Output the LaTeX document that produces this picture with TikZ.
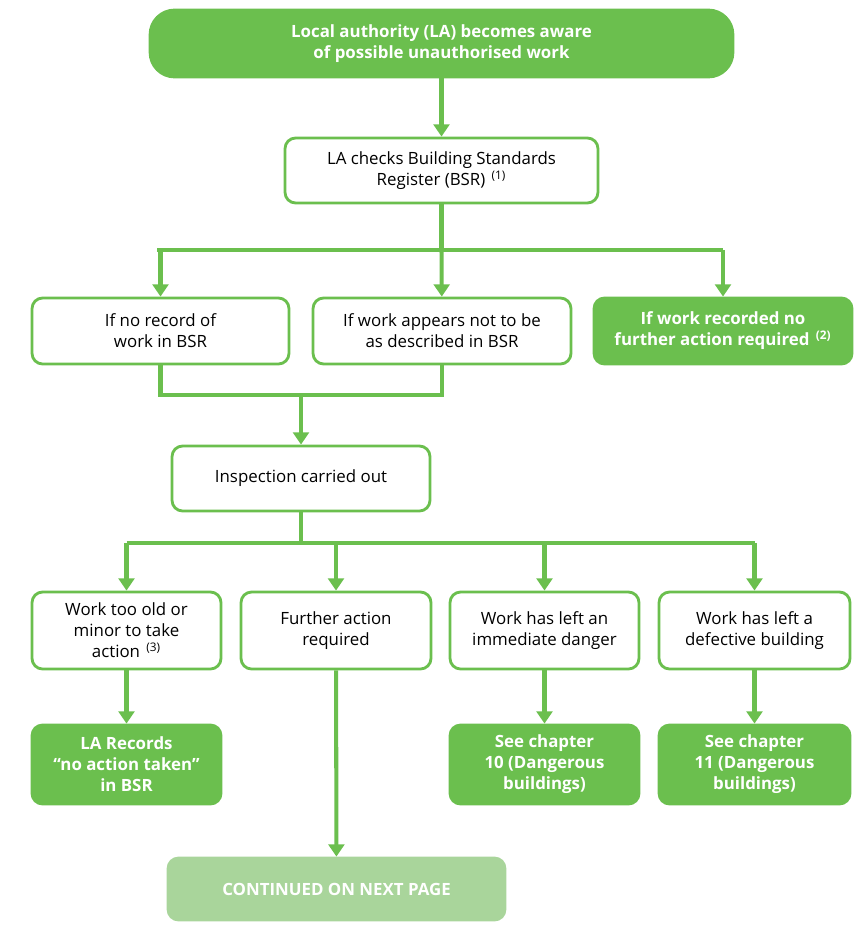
\documentclass[tikz,border=0pt]{standalone}
\usepackage{fontspec}
\setmainfont{Open Sans}
\usetikzlibrary{arrows.meta,calc}
\definecolor{lagreen}{HTML}{6BBF4E}
\definecolor{lalight}{HTML}{A9D59B}
\tikzset{
  box/.style={draw=lagreen,line width=1.6pt,rounded corners=6pt,fill=white,align=center,
    font=\fontsize{9.6}{12}\selectfont,inner sep=2pt},
  fillbox/.style={box,fill=lagreen,text=white,font=\fontsize{9.6}{12}\selectfont\bfseries},
  link/.style={draw=lagreen,line width=2.3pt},
  arr/.style={link,-{Triangle[length=7pt,width=9pt]}}
}
\begin{document}
\begin{tikzpicture}[x=0.02cm,y=-0.02cm]
  \useasboundingbox (0,0) rectangle (867,933);
  % boxes
  \node[fillbox,rounded corners=14pt,minimum width=11.66cm,minimum height=1.34cm] (aware) at (441.5,43.5) {Local authority (LA) becomes aware\\of possible unauthorised work};
  \node[box,minimum width=6.26cm,minimum height=1.3cm] (check) at (441.5,170.5) {LA checks Building Standards\\Register (BSR) \textsuperscript{\,(1)}};
  \node[box,minimum width=5.14cm,minimum height=1.32cm] (norec) at (160.5,331) {If no record of\\work in BSR};
  \node[box,minimum width=5.16cm,minimum height=1.32cm] (notas) at (442,331) {If work appears not to be\\as described in BSR};
  \node[fillbox,minimum width=5.16cm,minimum height=1.32cm] (recorded) at (723,331) {If work recorded no\\further action required \textsuperscript{\,(2)}};
  \node[box,minimum width=5.16cm,minimum height=1.3cm] (insp) at (301,478.5) {Inspection carried out};
  \node[box,minimum width=3.78cm,minimum height=1.54cm] (old) at (126.5,630.5) {Work too old or\\minor to take\\action \textsuperscript{\,(3)}};
  \node[box,minimum width=3.8cm,minimum height=1.54cm] (further) at (336,630.5) {Further action\\required};
  \node[box,minimum width=3.78cm,minimum height=1.54cm] (danger) at (544.5,630.5) {Work has left an\\immediate danger};
  \node[box,minimum width=3.82cm,minimum height=1.54cm] (defect) at (754.5,630.5) {Work has left a\\defective building};
  \node[fillbox,minimum width=3.78cm,minimum height=1.58cm] (noact) at (126.5,764.5) {LA Records\\“no action taken”\\in BSR};
  \node[fillbox,minimum width=3.78cm,minimum height=1.58cm] (ch10) at (544.5,764.5) {See chapter\\10 (Dangerous\\buildings)};
  \node[fillbox,minimum width=3.82cm,minimum height=1.58cm] (ch11) at (754.5,764.5) {See chapter\\11 (Dangerous\\buildings)};
  \node[fillbox,draw=lalight,fill=lalight,minimum width=6.74cm,minimum height=1.24cm] (next) at (336.5,889) {CONTINUED ON NEXT PAGE};
  % connectors
  \draw[arr] (aware) -- (check);
  \coordinate (split1) at (441.5,250);
  \draw[link] (check) -- (split1);
  \draw[link] (157,250) -- (723,250);
  \draw[arr] (split1 -| norec) -- (norec);
  \draw[arr] (split1) -- (notas);
  \draw[arr] (split1 -| recorded) -- (recorded);
  \coordinate (join) at (301,395);
  \draw[link,line cap=rect] (norec) |- (join) -| (notas);
  \draw[arr] (join) -- (insp);
  \coordinate (split2) at (301,543);
  \draw[link] (insp) -- (split2);
  \draw[link] (126.5,543) -- (754.5,543);
  \foreach \n in {old,further,danger,defect}
    \draw[arr] (split2 -| \n) -- (\n);
  \draw[arr] (old) -- (noact);
  \draw[arr] (danger) -- (ch10);
  \draw[arr] (defect) -- (ch11);
  \draw[arr] (further) -- (next);
\end{tikzpicture}
\end{document}
